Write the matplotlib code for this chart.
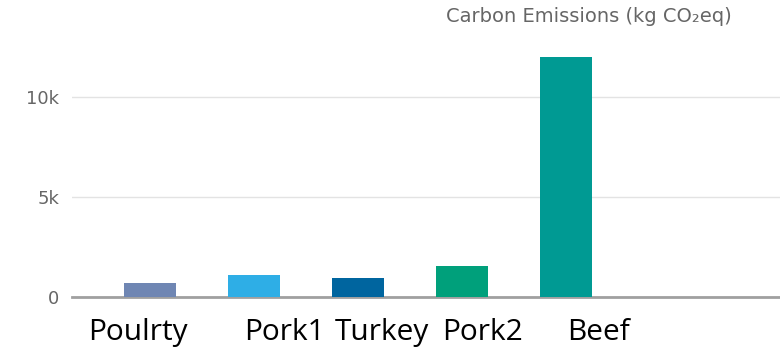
"""
Carbon emissions by meat type, bar chart.
"""

import matplotlib

matplotlib.use('Agg')
import matplotlib.pyplot as plt

categories = ['Poulrty', 'Pork1', 'Turkey', 'Pork2', 'Beef']
emissions = [700, 1100, 950, 1550, 12000]
bar_colors = ['#6f86b3', '#2eaee6', '#00659f', '#00a07b', '#009a93']
yticks = [0, 5000, 10000]
ytick_labels = ['0', '5k', '10k']

# label centres are drawn a bit off the bars in the original
label_shift = [-0.12, 0.29, 0.23, 0.20, 0.31]


def main():
  fig = plt.figure(figsize=(7.8, 3.52), dpi=100)
  ax = fig.add_axes([72 / 780, 55 / 352, 708 / 780, 257 / 352])

  xs = list(range(len(categories)))
  ax.bar(xs, emissions, width=0.5, color=bar_colors, zorder=3)

  ax.set_xlim(-0.75, 6.06)
  ax.set_ylim(0, 12850)
  ax.set_yticks(yticks)
  ax.set_yticklabels(ytick_labels, color='#666666', fontsize=13)
  ax.tick_params(axis='y', length=0, pad=9)
  ax.set_xticks([])
  ax.grid(True, axis='y', color='#e3e3e3', linewidth=1, zorder=0)

  for side in ['top', 'right', 'left']:
    ax.spines[side].set_visible(False)
  ax.spines['bottom'].set_color('#a0a0a0')
  ax.spines['bottom'].set_linewidth(2)

  for x, name, dx in zip(xs, categories, label_shift):
    ax.text(x + dx, -1050, name, ha='center', va='top', fontsize=21.5,
            family='Open Sans', color='black', clip_on=False)

  fig.text(589 / 780, 1 - 16 / 352, 'Carbon Emissions (kg CO\u2082eq)', ha='center',
           va='center', fontsize=14, color='#666666')

  fig.savefig('out.png', dpi=100)
  plt.close(fig)


if __name__ == '__main__':
  main()
